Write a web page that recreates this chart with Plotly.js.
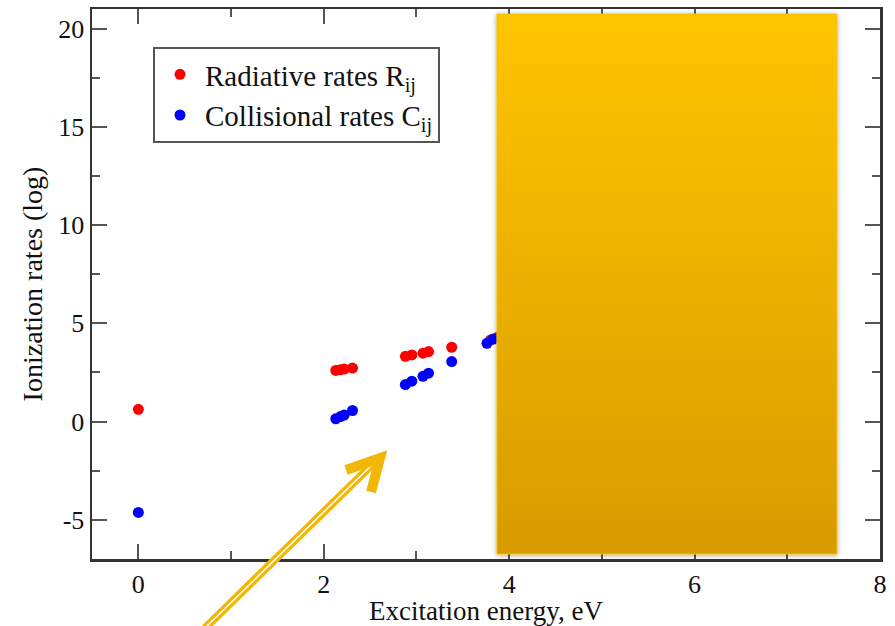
<!DOCTYPE html>
<html>
<head>
<meta charset="utf-8">
<script src="https://cdn.plot.ly/plotly-3.0.1.min.js"></script>
<style>html,body{margin:0;padding:0;background:#fff;}#chart{width:895px;height:626px;}</style>
</head>
<body>
<div id="chart"></div>
<script>
// ---- data ----
const radiativeX = [0.0, 2.13, 2.18, 2.22, 2.31, 2.88, 2.95, 3.07, 3.13, 3.38, 3.80, 3.88];
const radiativeY = [0.62, 2.60, 2.64, 2.67, 2.72, 3.32, 3.39, 3.48, 3.56, 3.78, 4.15, 4.30];
const collisionalX = [0.0, 2.13, 2.18, 2.22, 2.31, 2.88, 2.95, 3.07, 3.13, 3.38, 3.76, 3.83];
const collisionalY = [-4.63, 0.14, 0.25, 0.33, 0.56, 1.88, 2.05, 2.30, 2.46, 3.05, 3.98, 4.20];
const seriesNames = ["Radiative rates R<sub>ij</sub>", "Collisional rates C<sub>ij</sub>"];
const xTitle = "Excitation energy, eV";
const yTitle = "Ionization rates (log)";
const xTicks = [0, 2, 4, 6, 8];
const yTicks = [-5, 0, 5, 10, 15, 20];

const serif = "Liberation Serif, Times New Roman, serif";

const traces = [
  {x: radiativeX, y: radiativeY, name: seriesNames[0], type: "scatter", mode: "markers",
   marker: {color: "#ff0000", size: 11}},
  {x: collisionalX, y: collisionalY, name: seriesNames[1], type: "scatter", mode: "markers",
   marker: {color: "#0000ff", size: 11}}
];

const boxSvg = '<svg xmlns="http://www.w3.org/2000/svg" width="352" height="552" viewBox="0 0 352 552">' +
  '<defs><linearGradient id="g" x1="0" y1="0" x2="0" y2="1">' +
  '<stop offset="0" stop-color="#FEC500"/><stop offset="1" stop-color="#D89B00"/></linearGradient>' +
  '<filter id="s" x="-10%" y="-10%" width="120%" height="120%">' +
  '<feGaussianBlur in="SourceAlpha" stdDeviation="2.5"/><feOffset dx="0" dy="1" result="b"/>' +
  '<feFlood flood-color="#000" flood-opacity="0.35"/><feComposite in2="b" operator="in"/>' +
  '<feMerge><feMergeNode/><feMergeNode in="SourceGraphic"/></feMerge></filter></defs>' +
  '<rect x="6" y="6" width="340" height="540" fill="url(#g)" stroke="#F6C200" stroke-width="1" filter="url(#s)"/></svg>';

const axisCommon = {
  showline: true, linecolor: "#333", linewidth: 2.5, mirror: "ticks",
  ticks: "inside", ticklen: 15, tickwidth: 2, tickcolor: "#555",
  showgrid: false, zeroline: false,
  tickfont: {family: serif, size: 26, color: "#111"}
};

const arrowColor = "#F2B705";
const layout = {
  width: 895, height: 626,
  margin: {l: 92, r: 15, t: 9, b: 67},
  paper_bgcolor: "#fff", plot_bgcolor: "#fff",
  showlegend: true,
  legend: {x: 0.0774, y: 0.931, xanchor: "left", yanchor: "top",
           bgcolor: "#fff", bordercolor: "#555", borderwidth: 2, itemwidth: 40,
           font: {family: serif, size: 29, color: "#111"}},
  xaxis: Object.assign({}, axisCommon, {
    range: [-0.5, 8], tickvals: xTicks, ticktext: xTicks.map(String),
    minor: {ticks: "inside", ticklen: 8, tickwidth: 2, tickcolor: "#555", dtick: 1},
    title: {text: xTitle, font: {family: serif, size: 27, color: "#111"}, standoff: 0}
  }),
  yaxis: Object.assign({}, axisCommon, {
    range: [-7, 21], tickvals: yTicks, ticktext: yTicks.map(String),
    minor: {ticks: "inside", ticklen: 8, tickwidth: 2, tickcolor: "#555", dtick: 2.5, tick0: 0},
    title: {text: yTitle, font: {family: serif, size: 28, color: "#111"}, standoff: 8}
  }),
  images: [{
    source: "data:image/svg+xml;charset=utf-8," + encodeURIComponent(boxSvg),
    xref: "paper", yref: "paper", x: 0.5063, y: 1.0018, sizex: 0.4467, sizey: 1.0036,
    xanchor: "left", yanchor: "top", sizing: "stretch", layer: "above"
  }],
  shapes: [
    {type: "line", xref: "paper", yref: "paper", x0: 0.1434, y0: -0.1255, x1: 0.3629, y1: 0.1818,
     line: {color: arrowColor, width: 8}, layer: "above"},
    {type: "line", xref: "paper", yref: "paper", x0: 0.1434, y0: -0.1255, x1: 0.3600, y1: 0.1778,
     line: {color: "#ffffff", width: 1.5}, layer: "above"},
    {type: "path", xref: "paper", yref: "paper",
     path: "M 0.3223,0.1618 L 0.3655,0.1836 L 0.3541,0.1218",
     line: {color: arrowColor, width: 10}, layer: "above"}
  ]
};

Plotly.newPlot("chart", traces, layout, {displayModeBar: false, staticPlot: true});
</script>
</body>
</html>
